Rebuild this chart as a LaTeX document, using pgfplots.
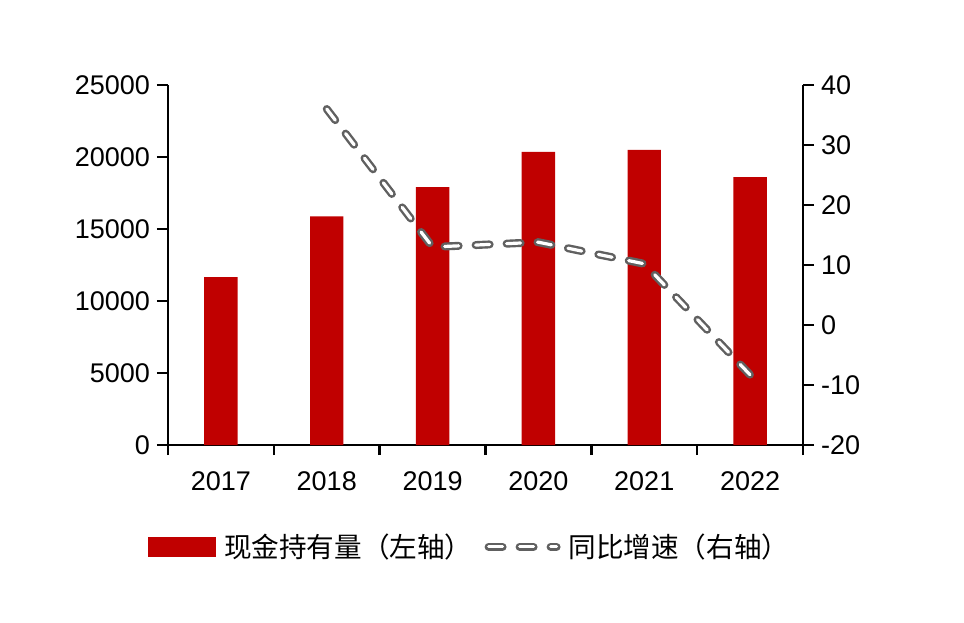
\documentclass[border=0pt]{standalone}
\usepackage{pgfplots}
\pgfplotsset{compat=1.18}
\usepackage{fontspec}
\setmainfont{Liberation Sans}
\newfontfamily\cjk{Noto Sans CJK SC}
\definecolor{barred}{HTML}{C00000}
\definecolor{linegray}{HTML}{606060}
\tikzset{
  grayline/.style={draw=linegray, line width=1.2pt, double=white, double distance=1.6pt,
    line cap=round, line join=round, dash pattern=on 7pt off 8.5pt},
}
\begin{document}
\begin{tikzpicture}
\useasboundingbox (0,0) rectangle (482pt,311pt);
\pgfplotsset{
  every axis/.append style={
    scale only axis, width=317.5pt, height=180pt,
    at={(84pt,88.5pt)}, anchor=south west,
    xmin=-0.5, xmax=5.5,
    axis line style={line width=1.2pt},
    tick style={line width=1.2pt, black},
    tick align=outside,
    major tick length=5.5pt,
    scaled y ticks=false,
    tick label style={font=\fontsize{13.5}{16}\selectfont},
    /pgf/number format/assume math mode=true,
    /pgf/number format/1000 sep={},
  },
}
\begin{axis}[
  axis x line*=bottom, axis y line*=left,
  ymin=0, ymax=25000, ytick={0,5000,...,25000},
  xtick={0,...,5}, xticklabels={2017,2018,2019,2020,2021,2022},
  major x tick style={draw=none},
  minor xtick={-0.5,0.5,...,5.5},
  minor tick length=5pt,
  minor x tick style={line width=1.2pt, black},
  xticklabel style={yshift=-4.5pt},
]
\addplot[ybar, bar width=16.7pt, bar shift=0pt, fill=barred, draw=none]
  coordinates {(0,11650) (1,15880) (2,17900) (3,20350) (4,20490) (5,18610)};
\end{axis}
\begin{axis}[
  axis x line=none, axis y line*=right,
  ymin=-20, ymax=40, ytick={-20,-10,...,40},
  legend columns=2,
  legend style={at={(0.477,-0.283)}, anchor=center, draw=none, fill=none,
    font=\fontsize{13.8}{16}\selectfont, column sep=4pt,
    /tikz/every odd column/.style={column sep=2pt}},
]
\addlegendimage{legend image code/.code={\fill[barred] (0pt,-4.75pt) rectangle (33.5pt,4.75pt);}}
\addlegendentry{\cjk 现金持有量（左轴）}
\addplot[grayline, mark=none, legend image code/.code={\draw[grayline] (0pt,0pt) -- (34pt,0pt);}]
  coordinates {(1,36.0) (2,13.0) (3,13.8) (4,10.2) (5,-8.3)};
\addlegendentry{\cjk 同比增速（右轴）}
\end{axis}
\end{tikzpicture}
\end{document}
